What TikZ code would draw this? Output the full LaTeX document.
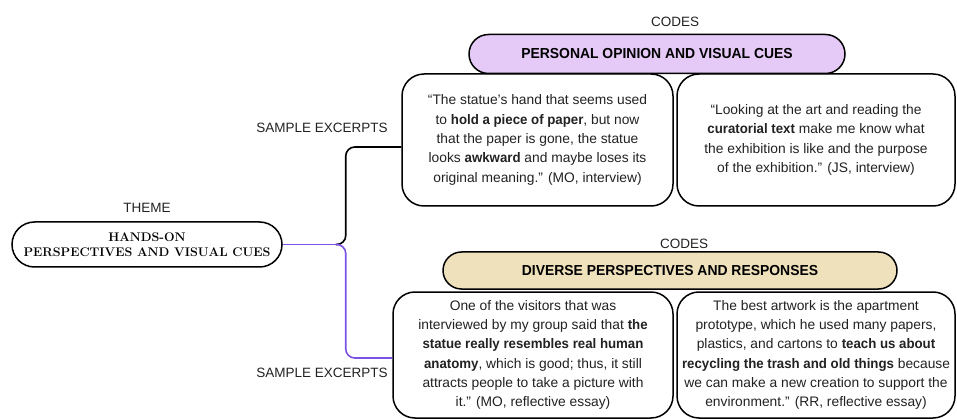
\documentclass[tikz,border=0pt]{standalone}
\usepackage{fontspec}
\newfontfamily\labelfont{Liberation Sans}[BoldFeatures={FakeStretch=0.96}]
\usetikzlibrary{shapes.misc}
\definecolor{codepurple}{RGB}{229,202,247}
\definecolor{codebeige}{RGB}{239,225,187}
\definecolor{linkpurple}{RGB}{124,82,230}
\definecolor{inkgray}{RGB}{34,34,34}
\begin{document}
\begin{tikzpicture}[x=1pt, y=-1pt,
    tag/.style={inner sep=0pt, text=inkgray, font=\labelfont\fontsize{13.5}{16}\selectfont},
    excerpt/.style={draw, line width=1.5pt, rounded corners=22pt, fill=white, align=center, inner sep=0pt, text=inkgray, font=\labelfont\fontsize{13.8}{19.3}\selectfont},
    code/.style={draw, rounded rectangle, line width=1.5pt, inner sep=0pt, font=\labelfont\bfseries\fontsize{14.5}{17}\selectfont},
    link/.style={line width=1.6pt, rounded corners=9pt}]
    \useasboundingbox (0,0) rectangle (957,419);

    \node[draw, rounded rectangle, line width=1.5pt, minimum width=270pt, minimum height=45pt, inner sep=0pt, align=center, font=\bfseries\fontsize{12.5}{15}\selectfont] (theme) at (147,244.5) {HANDS-ON\\PERSPECTIVES AND VISUAL CUES};
    \coordinate (jn) at ([xshift=53pt]theme.east);

    \node[excerpt, minimum width=271pt, minimum height=132pt] (box1) at (537.5,140) {“The statue’s hand that seems used\\to \textbf{hold a piece of paper}, but now\\that the paper is gone, the statue\\looks \textbf{awkward} and maybe loses its\\original meaning.” (MO, interview)};
    \node[excerpt, minimum width=278pt, minimum height=132pt] (box2) at (816,140) {“Looking at the art and reading the\\\textbf{curatorial text} make me know what\\the exhibition is like and the purpose\\of the exhibition.” (JS, interview)};
    \node[excerpt, minimum width=280pt, minimum height=126pt] (box3) at (533,355) {One of the visitors that was\\interviewed by my group said that \textbf{the}\\\textbf{statue really resembles real human}\\\textbf{anatomy}, which is good; thus, it still\\attracts people to take a picture with\\it.” (MO, reflective essay)};
    \node[excerpt, minimum width=278pt, minimum height=126pt] (box4) at (816,355) {The best artwork is the apartment\\prototype, which he used many papers,\\plastics, and cartons to \textbf{teach us about}\\\textbf{recycling the trash and old things} because\\we can make a new creation to support the\\environment.” (RR, reflective essay)};

    \draw[link, linkpurple] (theme.east) -- (jn);
    \draw[link] (jn) -- ++(10,0) |- ([yshift=-7pt]box1.west);
    \draw[link, linkpurple] (jn) -- ++(10,0) |- ([yshift=-3pt]box3.west);

    \node[code, fill=codepurple, minimum width=376pt, minimum height=39pt] (opinion) at (657,54) {PERSONAL OPINION AND VISUAL CUES};
    \node[code, fill=codebeige, minimum width=454pt, minimum height=37pt] (diverse) at (670,270.5) {DIVERSE PERSPECTIVES AND RESPONSES};

    \node[tag] (themelbl) at (147,208) {THEME};
    \node[tag] (codesA) at (675,22) {CODES};
    \node[tag] (codesB) at (684,244) {CODES};
    \node[tag] (sampleA) at (322,128) {SAMPLE EXCERPTS};
    \node[tag] (sampleB) at (322,373) {SAMPLE EXCERPTS};
\end{tikzpicture}
\end{document}
